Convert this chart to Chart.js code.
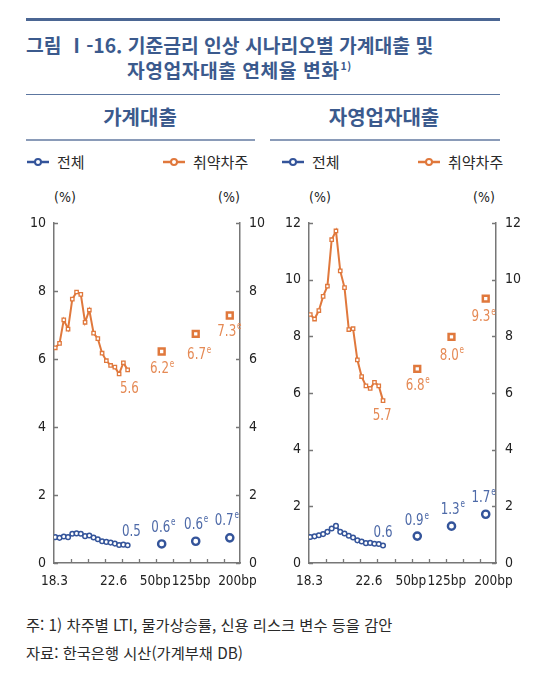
<!DOCTYPE html>
<html lang="ko">
<head>
<meta charset="utf-8">
<script src="https://cdn.jsdelivr.net/npm/chart.js@4.4.1/dist/chart.umd.min.js"></script>
<style>
    body {
        margin: 0;
        width: 546px;
        height: 681px;
        background: #fff;
        position: relative;
        overflow: hidden;
        font-family: "Noto Sans CJK KR", "Noto Sans", sans-serif;
        color: #222;
    }
    .abs { position: absolute; white-space: nowrap; }
    .rule { position: absolute; }
    .title { color: #3b5a8d; font-weight: 700; font-size: 19.3px; line-height: 22px; }
    .title sup { font-size: 10.5px; vertical-align: 8px; line-height: 0; margin-left: 1px; }
    .sub { color: #3b5a8d; font-weight: 700; font-size: 20px; line-height: 24px; transform: translateX(-50%); }
    .legend { font-size: 15px; line-height: 18px; display: flex; align-items: center; color: #2a2a2a; }
    .legend svg { margin-right: 8px; }
    .unit { font-family: "Liberation Sans Narrow", "DejaVu Sans Condensed", sans-serif; font-size: 14px; line-height: 16px; transform: translateX(-50%); color: #222; }
    .note { font-size: 15.3px; line-height: 18px; color: #2a2a2a; }
    canvas { position: absolute; top: 200px; }
</style>
</head>
<body>

<div class="rule" style="left:26px; top:18px; width:474px; height:2.5px; background:#4b6693;"></div>
<div class="abs title" style="left:26px; top:34px;">그림 Ⅰ-16. 기준금리 인상 시나리오별 가계대출 및</div>
<div class="abs title" style="left:127px; top:59px; letter-spacing:0.5px;">자영업자대출 연체율 변화<sup>1)</sup></div>
<div class="rule" style="left:26px; top:94px; width:474px; height:1.2px; background:#5c76a0;"></div>

<div class="abs sub" style="left:140px; top:105px;">가계대출</div>
<div class="abs sub" style="left:384px; top:105px;">자영업자대출</div>
<div class="rule" style="left:26px; top:139px; width:229px; height:1.5px; background:#8a9bb8;"></div>
<div class="rule" style="left:270px; top:139px; width:230px; height:1.5px; background:#8a9bb8;"></div>

<div class="abs legend" style="left:27px; top:153px;">
    <svg width="22" height="10"><line x1="0" y1="5" x2="22" y2="5" stroke="#34549a" stroke-width="2.5"/><circle cx="11" cy="5" r="3" fill="#fff" stroke="#34549a" stroke-width="2"/></svg>전체
</div>
<div class="abs legend" style="left:163px; top:153px;">
    <svg width="22" height="10"><line x1="0" y1="5" x2="22" y2="5" stroke="#e0783c" stroke-width="2.5"/><circle cx="11" cy="5" r="3" fill="#fff" stroke="#e0783c" stroke-width="2"/></svg>취약차주
</div>
<div class="abs legend" style="left:282px; top:153px;">
    <svg width="22" height="10"><line x1="0" y1="5" x2="22" y2="5" stroke="#34549a" stroke-width="2.5"/><circle cx="11" cy="5" r="3" fill="#fff" stroke="#34549a" stroke-width="2"/></svg>전체
</div>
<div class="abs legend" style="left:418px; top:153px;">
    <svg width="22" height="10"><line x1="0" y1="5" x2="22" y2="5" stroke="#e0783c" stroke-width="2.5"/><circle cx="11" cy="5" r="3" fill="#fff" stroke="#e0783c" stroke-width="2"/></svg>취약차주
</div>

<div class="abs unit" style="left:65px; top:189px;">(%)</div>
<div class="abs unit" style="left:229px; top:189px;">(%)</div>
<div class="abs unit" style="left:320px; top:189px;">(%)</div>
<div class="abs unit" style="left:484px; top:189px;">(%)</div>

<canvas id="household" width="273" height="390" style="left:0px;"></canvas>
<canvas id="self-employed" width="273" height="390" style="left:273px;"></canvas>

<div class="abs note" style="left:26px; top:615px;">주: 1) 차주별 LTI, 물가상승률, 신용 리스크 변수 등을 감안</div>
<div class="abs note" style="left:26px; top:643px;">자료: 한국은행 시산(가계부채 DB)</div>

<script>
// quarters plotted on the line part, one step each
const quarters = [
    "18.3", "18.6", "18.9", "18.12", "19.3", "19.6", "19.9", "19.12", "20.3",
    "20.6", "20.9", "20.12", "21.3", "21.6", "21.9", "21.12", "22.3", "22.6"
];
const scenarios = ["50bp", "125bp", "200bp"];
const scenarioPos = [25, 33, 41];

const xTickLabels = ["18.3", "22.6", "50bp", "125bp", "200bp"];
const xTickPos = [-0.2, 13.7, 23.5, 31.9, 42.8];

// 가계대출
const hhTotal = [0.76, 0.74, 0.78, 0.76, 0.86, 0.87, 0.86, 0.79, 0.81, 0.75, 0.70, 0.64, 0.62, 0.60, 0.57, 0.53, 0.54, 0.52];
const hhVulnerable = [6.33, 6.46, 7.15, 6.88, 7.76, 7.97, 7.90, 7.08, 7.44, 6.76, 6.60, 6.17, 5.95, 5.81, 5.76, 5.56, 5.89, 5.68];
const hhScenTotal = [0.56, 0.64, 0.74];
const hhScenVulnerable = [6.22, 6.74, 7.28];
const hhTotalText = ["0.5", "0.6", "0.6", "0.7"];
const hhVulnerableText = ["5.6", "6.2", "6.7", "7.3"];

// 자영업자대출
const seTotal = [0.92, 0.94, 0.98, 1.02, 1.10, 1.22, 1.31, 1.10, 1.04, 0.96, 0.90, 0.80, 0.76, 0.70, 0.71, 0.68, 0.67, 0.62];
const seVulnerable = [8.77, 8.61, 8.91, 9.41, 9.77, 11.41, 11.72, 10.31, 9.72, 8.24, 8.27, 7.17, 6.58, 6.25, 6.16, 6.38, 6.25, 5.73];
const seScenTotal = [0.95, 1.30, 1.72];
const seScenVulnerable = [6.85, 7.98, 9.33];
const seTotalText = ["0.6", "0.9", "1.3", "1.7"];
const seVulnerableText = ["5.7", "6.8", "8.0", "9.3"];

// where the value labels sit, in chart units
const hhTotalLabelAt = [[17.9, 0.92], [25.4, 1.04], [33.1, 1.14], [40.3, 1.24]];
const hhVulnerableLabelAt = [[17.4, 5.14], [25.1, 5.70], [33.8, 6.12], [40.9, 6.80]];
const seTotalLabelAt = [[17.0, 1.07], [24.9, 1.48], [33.3, 1.88], [40.5, 2.31]];
const seVulnerableLabelAt = [[16.8, 5.21], [25.1, 6.27], [33.1, 7.33], [40.5, 8.68]];

const BLUE = "#34549a";
const ORANGE = "#e0783c";
const BLUE_TEXT = "#4e6aa8";
const ORANGE_TEXT = "#e58a55";

const X_MIN = -0.3;
const X_MAX = 43.4;
const X_TICK_STEP = 4;
const NUM_FONT = "\"Liberation Sans Narrow\", \"DejaVu Sans Condensed\", sans-serif";
const LABEL_SQUEEZE = 0.8;

function lineData(values) {
    return values.map((v, i) => ({ x: i, y: v }));
}

function scenarioData(values) {
    return values.map((v, i) => ({ x: scenarioPos[i], y: v }));
}

function labelItems(texts, at, color) {
    return texts.map((t, i) => ({
        x: at[i][0],
        y: at[i][1],
        text: t,
        sup: i > 0,
        color: color
    }));
}

// inward tick marks on all three axes
const tickMarks = {
    id: "tickMarks",
    afterDraw(chart) {
        let { ctx, chartArea, scales } = chart;
        ctx.save();
        ctx.strokeStyle = "#777";
        ctx.lineWidth = 1.3;
        ctx.beginPath();
        scales.y.ticks.forEach((t) => {
            let py = Math.round(scales.y.getPixelForValue(t.value)) + 0.5;
            ctx.moveTo(chartArea.left, py);
            ctx.lineTo(chartArea.left + 4, py);
            ctx.moveTo(chartArea.right, py);
            ctx.lineTo(chartArea.right - 4, py);
        });
        for (let v = X_MIN + X_TICK_STEP; v < X_MAX - 2; v += X_TICK_STEP) {
            let px = Math.round(scales.x.getPixelForValue(v)) + 0.5;
            ctx.moveTo(px, chartArea.bottom);
            ctx.lineTo(px, chartArea.bottom - 4);
        }
        ctx.stroke();
        ctx.restore();
    }
};

function makeValueLabels(items) {
    return {
        id: "valueLabels",
        afterDatasetsDraw(chart) {
            let { ctx, scales } = chart;
            items.forEach((item) => {
                let px = scales.x.getPixelForValue(item.x);
                let py = scales.y.getPixelForValue(item.y);
                ctx.save();
                ctx.textBaseline = "middle";
                ctx.textAlign = "left";
                ctx.fillStyle = item.color;
                ctx.font = "16.5px " + NUM_FONT;
                let w = ctx.measureText(item.text).width;
                ctx.font = "10px " + NUM_FONT;
                let supW = item.sup ? ctx.measureText("e").width + 1 : 0;
                // squeeze horizontally to get the narrow look of the original
                ctx.translate(px - (w + supW) * LABEL_SQUEEZE / 2, py);
                ctx.scale(LABEL_SQUEEZE, 1);
                ctx.font = "16.5px " + NUM_FONT;
                ctx.fillText(item.text, 0, 0);
                if (item.sup) {
                    ctx.font = "10px " + NUM_FONT;
                    ctx.fillText("e", w + 1, -5);
                }
                ctx.restore();
            });
        }
    };
}

function initChart(canvasId, cfg) {
    let ctx = document.getElementById(canvasId).getContext("2d");
    let tickFont = { family: NUM_FONT, size: 14 };

    return new Chart(ctx, {
        type: "line",
        data: {
            datasets: [
                {
                    label: "전체",
                    data: lineData(cfg.total),
                    borderColor: BLUE,
                    backgroundColor: "#fff",
                    borderWidth: 2,
                    pointStyle: "circle",
                    pointRadius: 2.3,
                    pointBorderWidth: 1.5,
                    pointBackgroundColor: "#fff",
                    pointBorderColor: BLUE
                },
                {
                    label: "취약차주",
                    data: lineData(cfg.vulnerable),
                    borderColor: ORANGE,
                    backgroundColor: "#fff",
                    borderWidth: 2,
                    pointStyle: "rect",
                    pointRadius: 2.4,
                    pointBorderWidth: 1.3,
                    pointBackgroundColor: "#fff",
                    pointBorderColor: ORANGE
                },
                {
                    label: "전체 시나리오",
                    data: scenarioData(cfg.scenTotal),
                    showLine: false,
                    pointStyle: "circle",
                    pointRadius: 3.6,
                    pointBorderWidth: 2.4,
                    pointBackgroundColor: "#fff",
                    pointBorderColor: BLUE
                },
                {
                    label: "취약차주 시나리오",
                    data: scenarioData(cfg.scenVulnerable),
                    showLine: false,
                    pointStyle: "rect",
                    pointRadius: 4.1,
                    pointBorderWidth: 2.5,
                    pointBackgroundColor: "#fff",
                    pointBorderColor: ORANGE
                }
            ]
        },
        options: {
            responsive: false,
            animation: false,
            layout: {
                padding: { top: cfg.padTop, left: 0, right: 0, bottom: 0 }
            },
            plugins: {
                legend: { display: false },
                tooltip: { enabled: false }
            },
            scales: {
                x: {
                    type: "linear",
                    min: X_MIN,
                    max: X_MAX,
                    afterBuildTicks: (scale) => {
                        scale.ticks = xTickPos.map((v) => ({ value: v }));
                    },
                    afterFit: (scale) => {
                        scale.height = 27;
                    },
                    ticks: {
                        callback: (value, index) => xTickLabels[index],
                        autoSkip: false,
                        maxRotation: 0,
                        padding: 10,
                        color: "#222",
                        font: { family: NUM_FONT, size: 13.5 }
                    },
                    grid: { display: false, drawTicks: false },
                    border: { color: "#777", width: 1.5 }
                },
                y: {
                    type: "linear",
                    position: "left",
                    min: 0,
                    max: cfg.yMax,
                    afterFit: (scale) => {
                        scale.width = cfg.leftWidth;
                    },
                    ticks: {
                        stepSize: 2,
                        padding: 8,
                        color: "#222",
                        font: tickFont
                    },
                    grid: { display: false, drawTicks: false },
                    border: { color: "#777", width: 1.5 }
                },
                y2: {
                    type: "linear",
                    position: "right",
                    min: 0,
                    max: cfg.yMax,
                    afterFit: (scale) => {
                        scale.width = cfg.rightWidth;
                    },
                    ticks: {
                        stepSize: 2,
                        padding: 9,
                        color: "#222",
                        font: tickFont
                    },
                    grid: { display: false, drawTicks: false },
                    border: { color: "#777", width: 1.5 }
                }
            }
        },
        plugins: [tickMarks, makeValueLabels(cfg.labels)]
    });
}

initChart("household", {
    total: hhTotal,
    vulnerable: hhVulnerable,
    scenTotal: hhScenTotal,
    scenVulnerable: hhScenVulnerable,
    yMax: 10,
    padTop: 23,
    leftWidth: 54,
    rightWidth: 33,
    labels: labelItems(hhTotalText, hhTotalLabelAt, BLUE_TEXT)
        .concat(labelItems(hhVulnerableText, hhVulnerableLabelAt, ORANGE_TEXT))
});

initChart("self-employed", {
    total: seTotal,
    vulnerable: seVulnerable,
    scenTotal: seScenTotal,
    scenVulnerable: seScenVulnerable,
    yMax: 12,
    padTop: 23,
    leftWidth: 36,
    rightWidth: 50,
    labels: labelItems(seTotalText, seTotalLabelAt, BLUE_TEXT)
        .concat(labelItems(seVulnerableText, seVulnerableLabelAt, ORANGE_TEXT))
});
</script>
</body>
</html>
